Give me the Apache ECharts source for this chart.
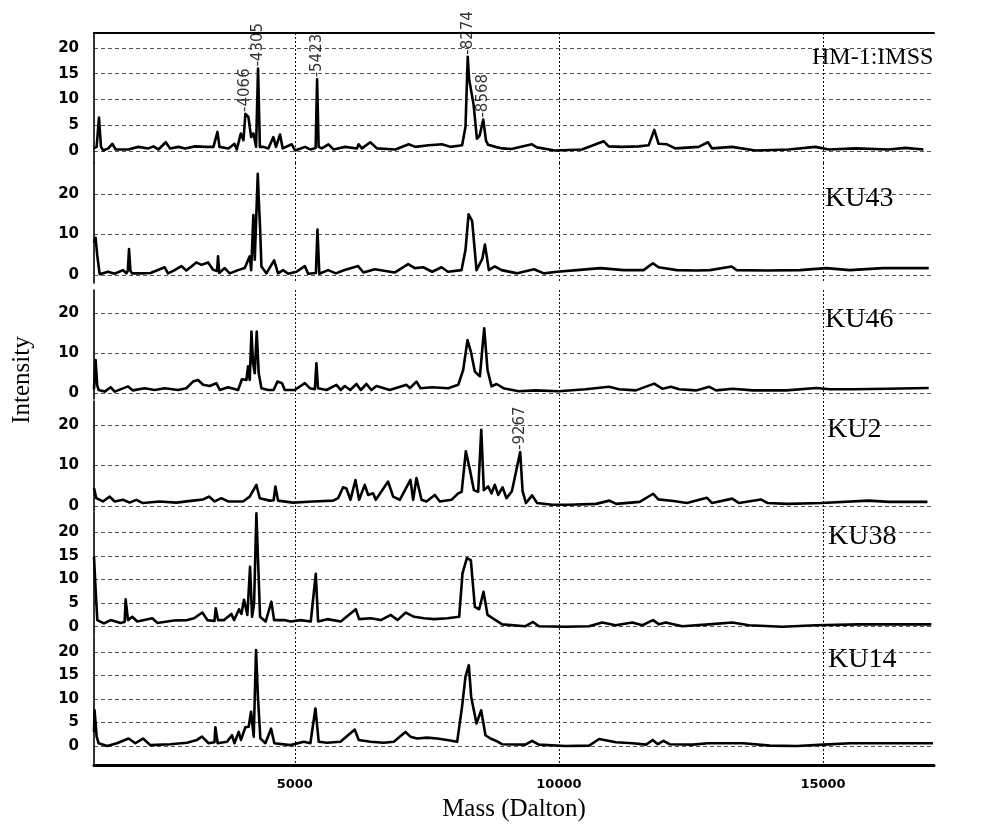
<!DOCTYPE html>
<html><head><meta charset="utf-8">
<script src="https://cdn.jsdelivr.net/npm/echarts@6/dist/echarts.min.js"></script>
<style>html,body{margin:0;padding:0;background:#fff}#c{width:990px;height:837px}</style>
</head><body><div id="c"></div><script>
// ---- data (mass in Dalton, intensity) ----
const massMin = 1200, massMax = 17100;
const massTicks = [5000, 10000, 15000];
const yTicks5 = [0, 5, 10, 15, 20];
const yTicks10 = [0, 10, 20];
const panelNames = ['HM-1:IMSS', 'KU43', 'KU46', 'KU2', 'KU38', 'KU14'];

const hm1 = [[1190,0.5],[1250,0.8],[1294,6.5],[1332,0.8],[1376,0.1],[1470,0.5],[1546,1.4],[1610,0.3],[1850,0.3],[2040,0.8],[2230,0.5],[2324,0.9],[2419,0.3],[2558,1.7],[2640,0.5],[2798,0.8],[2924,0.5],[3113,0.9],[3303,0.8],[3461,0.8],[3537,3.7],[3575,0.8],[3745,0.5],[3859,1.4],[3903,0.3],[3979,3.4],[4029,2.1],[4066,7.2],[4123,6.6],[4174,2.7],[4218,3.4],[4268,0.8],[4305,16.0],[4340,0.8],[4407,0.8],[4500,0.5],[4595,2.7],[4645,0.8],[4721,3.2],[4772,0.5],[4943,1.3],[5006,0.1],[5196,0.8],[5290,0.3],[5395,0.6],[5423,13.9],[5452,0.8],[5512,0.5],[5638,1.3],[5733,0.3],[5955,0.8],[6177,0.5],[6208,1.3],[6271,0.5],[6430,1.7],[6556,0.5],[6904,0.3],[7157,1.3],[7283,0.8],[7536,1.1],[7789,1.3],[7947,0.8],[8168,1.1],[8232,4.7],[8274,18.3],[8300,14],[8385,9.0],[8448,2.4],[8500,3.0],[8568,6.1],[8620,2.0],[8660,1.2],[8801,0.8],[8928,0.5],[9100,0.4],[9489,1.3],[9584,0.7],[9924,0.1],[10436,0.3],[10847,1.9],[10941,0.9],[11194,0.8],[11510,0.9],[11699,1.1],[11805,4.1],[11887,1.4],[12045,1.3],[12203,0.5],[12645,0.8],[12822,1.7],[12897,0.5],[13276,0.8],[13718,0.1],[14349,0.3],[14855,0.8],[15107,0.3],[15612,0.5],[16243,0.3],[16559,0.6],[16900,0.3]];

const ku43 = [[1200,8],[1230,9.2],[1260,5],[1307,0.2],[1465,0.8],[1591,0.3],[1749,1.2],[1812,0.4],[1840,1.0],[1863,6.4],[1890,1.0],[1919,0.4],[2096,0.4],[2270,0.5],[2538,1.9],[2600,0.4],[2727,1.2],[2854,2.2],[2948,1.1],[3138,3.1],[3232,2.5],[3359,3.1],[3453,1.3],[3530,1.0],[3548,4.6],[3570,0.5],[3674,1.7],[3769,0.4],[3927,1.2],[4053,1.7],[4148,4.6],[4175,1.2],[4217,14.8],[4243,3.8],[4300,25],[4318,18.8],[4343,12],[4369,2.1],[4463,0.4],[4609,3.6],[4684,0.4],[4779,1.2],[4874,0.3],[5032,0.8],[5190,2.2],[5253,0.3],[5400,0.5],[5430,11.2],[5465,0.3],[5631,1.2],[5780,0.4],[5915,1.1],[6200,2.2],[6300,0.6],[6515,1.4],[6890,0.6],[7146,2.7],[7273,1.7],[7430,1.9],[7600,0.8],[7778,1.9],[7900,0.8],[8157,1.2],[8232,6.2],[8290,15],[8358,13.3],[8440,1.2],[8548,3.9],[8600,7.5],[8674,1.2],[8788,2.1],[8914,1.2],[9213,0.4],[9528,1.4],[9716,0.4],[9968,0.8],[10345,1.2],[10786,1.7],[11226,1.2],[11603,1.2],[11779,2.9],[11886,1.9],[12232,1.2],[12610,1.1],[12861,1.2],[13270,2.1],[13364,1.2],[13931,1.1],[14560,1.2],[15063,1.7],[15503,1.2],[16132,1.7],[17000,1.7]];

const ku46 = [[1200,1],[1231,8.3],[1260,2],[1288,0.8],[1402,0.4],[1515,1.5],[1591,0.4],[1844,1.7],[1938,0.7],[2159,1.25],[2348,0.8],[2538,1.25],[2791,0.8],[2948,1.25],[3075,2.9],[3169,3.3],[3264,2.1],[3390,1.8],[3517,2.5],[3580,0.8],[3738,1.5],[3927,0.8],[4000,3.5],[4085,3.3],[4116,6.7],[4148,3.3],[4180,15.4],[4211,7.5],[4243,5],[4280,15.4],[4318,5],[4369,1.25],[4495,0.8],[4600,0.8],[4672,2.9],[4760,2.5],[4811,0.8],[5000,0.8],[5190,2.5],[5284,1.25],[5380,1],[5410,7.5],[5440,1.25],[5600,0.8],[5789,2.1],[5870,0.8],[5947,1.8],[6050,0.8],[6168,2.3],[6250,0.8],[6357,2.3],[6450,0.8],[6547,1.8],[6799,0.8],[7115,2.1],[7180,1.25],[7304,2.9],[7380,1.25],[7600,1.5],[7904,1.25],[8094,2.1],[8188,5.8],[8270,13.3],[8333,10.4],[8409,5.4],[8504,4.2],[8586,16.25],[8649,5.8],[8725,1.7],[8820,2.3],[8950,1.25],[9240,0.5],[9557,0.7],[10000,0.5],[10506,1],[10949,1.6],[11139,1],[11456,0.7],[11804,2.4],[11962,1.1],[12120,1.6],[12278,1],[12595,0.7],[12848,1.6],[12975,0.7],[13291,1.1],[13671,0.7],[14304,0.7],[14874,1.3],[15127,1],[15570,1],[16203,1.1],[17000,1.3]];

const ku2 = [[1200,4.4],[1243,1.9],[1370,1.1],[1496,2.3],[1591,1.1],[1748,1.5],[1875,0.8],[2001,1.5],[2127,0.7],[2443,1.1],[2759,0.8],[3074,1.3],[3264,1.6],[3377,2.3],[3485,1.1],[3611,1.9],[3737,1.1],[4021,1.1],[4147,2.3],[4274,5.2],[4337,1.9],[4526,1.3],[4600,1.4],[4634,4.8],[4684,1.3],[4968,0.8],[5347,1.1],[5726,1.3],[5820,1.9],[5915,4.6],[5978,4.3],[6054,1.5],[6149,6.4],[6218,1.5],[6325,5.2],[6389,2.7],[6483,3.1],[6534,1.5],[6767,6],[6862,2.3],[6988,1.5],[7190,6.4],[7241,1.5],[7304,6.9],[7399,1.5],[7493,1.1],[7651,2.7],[7746,1.1],[7967,1.5],[8093,3.1],[8160,3.5],[8238,13.5],[8314,9],[8390,3.9],[8472,3.5],[8530,18.8],[8579,3.9],[8661,4.8],[8725,3.1],[8787,5.2],[8851,2.7],[8933,4.6],[9008,1.9],[9110,3.6],[9267,13.3],[9313,3.6],[9377,0.7],[9492,2.6],[9587,0.7],[9874,0.3],[10193,0.3],[10702,0.5],[10957,1.3],[11084,0.5],[11530,1],[11785,3],[11881,1.6],[12167,1.2],[12422,0.7],[12804,2],[12900,0.7],[13282,1.8],[13409,0.7],[13823,1.6],[13951,0.7],[14333,0.5],[14970,0.7],[15862,1.3],[16244,1],[16976,1]];

const ku38 = [[1200,14.8],[1230,8],[1263,1.4],[1389,0.7],[1515,1.4],[1704,0.8],[1780,1],[1799,5.8],[1843,1.4],[1925,2.1],[2020,1.1],[2304,1.8],[2399,0.8],[2715,1.3],[2967,1.4],[3094,1.8],[3251,3],[3346,1.4],[3480,1.2],[3504,3.9],[3548,1.4],[3662,1.4],[3800,2.7],[3851,1.4],[3946,3.7],[3990,2.7],[4040,5.7],[4103,2.5],[4154,12.7],[4192,2.1],[4230,4.9],[4274,24],[4312,12],[4343,2.1],[4450,1.1],[4558,5.3],[4609,1.4],[4798,1.4],[4924,1.1],[5113,1.4],[5303,1.1],[5398,11.2],[5442,1.1],[5618,1.6],[5871,1.1],[6155,3.7],[6218,1.6],[6439,1.8],[6628,1.4],[6818,2.5],[6944,1.4],[7102,3],[7260,2.1],[7449,1.8],[7638,1.6],[7891,1.8],[8112,2.1],[8175,11.3],[8257,14.5],[8333,14.1],[8409,4.2],[8491,3.7],[8573,7.4],[8649,2.5],[8743,1.8],[8927,0.5],[9369,0.1],[9508,1],[9622,0.1],[10127,0],[10569,0.1],[10821,0.9],[11074,0.3],[11389,0.9],[11579,0.3],[11781,1.4],[11895,0.5],[12021,0.9],[12336,0.1],[12841,0.5],[13283,0.9],[13599,0.3],[14230,0],[14862,0.3],[15682,0.5],[16440,0.5],[17050,0.5]];

const ku14 = [[1200,3],[1211,7.6],[1250,2],[1287,0.6],[1450,0],[1634,0.6],[1855,1.6],[1982,0.6],[2127,1.6],[2266,0.2],[2644,0.4],[2960,0.7],[3149,1.3],[3244,2],[3370,0.6],[3480,0.8],[3497,4],[3541,0.6],[3718,0.9],[3812,2.3],[3857,0.6],[3939,3],[3983,1.3],[4065,4],[4128,4.1],[4172,7.3],[4223,2],[4267,20.4],[4305,10],[4349,1.6],[4444,0.6],[4551,3.7],[4614,0.6],[4917,0.2],[5170,0.9],[5296,0.6],[5391,8],[5454,0.9],[5612,0.7],[5864,0.9],[6136,3.5],[6211,1.3],[6432,0.9],[6685,0.7],[6874,0.9],[7095,3],[7190,2],[7316,1.6],[7505,1.8],[7695,1.6],[7884,1.3],[8074,0.9],[8168,8.5],[8231,14.7],[8295,17.2],[8339,10.5],[8440,4.8],[8528,7.6],[8610,2.3],[8705,1.6],[8832,1.0],[8922,0.4],[9366,0.3],[9493,1.1],[9620,0.3],[10127,0],[10571,0.1],[10762,1.5],[11079,0.8],[11396,0.6],[11650,0.3],[11776,1.3],[11872,0.4],[11980,1.1],[12094,0.4],[12538,0.3],[12823,0.6],[13235,0.6],[13489,0.6],[13997,0.1],[14504,0],[15012,0.3],[15519,0.6],[16470,0.6],[17080,0.6]];

// labelled peaks: [mass, intensity, text]
const hm1PeakLabels = [[4066,7.2,'-4066'],[4305,16.0,'-4305'],[5423,13.9,'-5423'],[8274,18.3,'-8274'],[8568,6.1,'-8568']];
const ku2PeakLabels = [[9267,13.3,'-9267']];

// ---- layout ----
const spectra = [hm1, ku43, ku46, ku2, ku38, ku14];
const layout = [
  {top:33,  height:130, min:-2.33, max:22.9,  ticks:yTicks5},
  {top:163, height:120, min:-1.98, max:27.65, ticks:yTicks10},
  {top:290, height:109, min:-1.45, max:25.8,  ticks:yTicks10},
  {top:401, height:110, min:-1.26, max:25.9,  ticks:yTicks10},
  {top:512, height:124, min:-1.97, max:24.3,  ticks:yTicks5},
  {top:637, height:128, min:-4.03, max:23.2,  ticks:yTicks5}
];
const nameTops = [46, 185, 306, 416, 523, 646];
const nameLefts = [812, 825, 825, 827, 828, 828];
const nameSizes = [24, 28, 28, 28, 28, 28];

const GL = 94, GW = 840;
const grid = layout.map(p => ({left: GL, width: GW, top: p.top, height: p.height}));

const xAxis = layout.map((p, i) => ({
  type: 'value', gridIndex: i, min: massMin, max: massMax,
  axisLine: {show: i === 5, onZero: false, lineStyle: {color: '#000', width: 3}},
  axisTick: {show: false, customValues: massTicks},
  axisLabel: {show: i === 5, customValues: massTicks, margin: 13,
    formatter: v => String(v),
    fontFamily: 'DejaVu Sans', fontWeight: 'bold', fontSize: 13, color: '#000'},
  splitLine: {show: true, lineStyle: {color: '#111', type: [2, 2], width: 1}},
  name: i === 5 ? 'Mass (Dalton)' : '',
  nameLocation: 'middle', nameGap: 32,
  nameTextStyle: {fontFamily: 'Liberation Serif', fontSize: 25, color: '#000'}
}));
xAxis.push({
  type: 'value', gridIndex: 0, position: 'top', min: massMin, max: massMax,
  axisLine: {show: true, onZero: false, lineStyle: {color: '#000', width: 2}},
  axisTick: {show: false}, axisLabel: {show: false}, splitLine: {show: false}
});

const yAxis = layout.map((p, i) => ({
  type: 'value', gridIndex: i, min: p.min, max: p.max,
  axisLine: {show: true, onZero: false, lineStyle: {color: '#000', width: 1.6}},
  axisTick: {show: false, customValues: p.ticks},
  axisLabel: {customValues: p.ticks, margin: 15, fontFamily: 'DejaVu Sans',
    fontWeight: 'bold', fontSize: 15, color: '#000'},
  splitLine: {show: true, lineStyle: {color: '#555', type: [4, 3], width: 1}}
}));

const series = spectra.map((d, i) => ({
  type: 'line', xAxisIndex: i, yAxisIndex: i, data: d,
  showSymbol: false, symbol: 'none',
  lineStyle: {color: '#000', width: 2.6, join: 'round'}, silent: true
}));
const peakLabelStyle = {
  show: true, formatter: p => p.data[2], rotate: 90, position: 'top',
  align: 'left', verticalAlign: 'middle', distance: 2,
  fontFamily: 'DejaVu Sans', fontSize: 15, color: '#000'
};
series.push({type: 'scatter', xAxisIndex: 0, yAxisIndex: 0, data: hm1PeakLabels,
  symbolSize: 0, label: peakLabelStyle, silent: true});
series.push({type: 'scatter', xAxisIndex: 3, yAxisIndex: 3, data: ku2PeakLabels,
  symbolSize: 0, label: peakLabelStyle, silent: true});

const graphic = panelNames.map((n, i) => ({
  type: 'text', left: nameLefts[i], top: nameTops[i],
  style: {text: n, font: nameSizes[i] + 'px "Liberation Serif"', fill: '#000'}
}));
graphic.push({
  type: 'text', x: 22, y: 380, rotation: Math.PI / 2,
  style: {text: 'Intensity', font: '25px "Liberation Serif"', fill: '#000',
    align: 'center', verticalAlign: 'middle'}
});

const chart = echarts.init(document.getElementById('c'), null, {renderer: 'canvas'});
chart.setOption({
  animation: false, backgroundColor: '#fff',
  grid, xAxis, yAxis, series, graphic
});
</script></body></html>
